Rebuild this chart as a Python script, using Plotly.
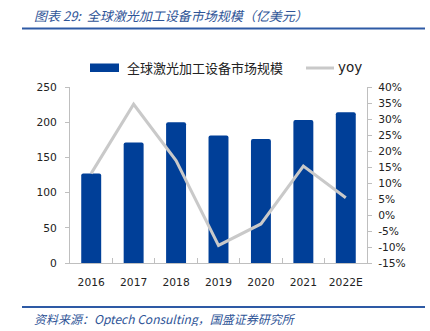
import plotly.graph_objects as go

# Global laser processing equipment market size (100M USD) and YoY growth
years = ["2016", "2017", "2018", "2019", "2020", "2021", "2022E"]
market_size = [127, 171, 200, 181, 176, 203, 214]
yoy = [13.0, 34.6, 17.0, -9.5, -2.8, 15.3, 5.4]

left_ticks = [0, 50, 100, 150, 200, 250]
right_ticks = [-15, -10, -5, 0, 5, 10, 15, 20, 25, 30, 35, 40]

BAR_BLUE = "#003f98"
LINE_GREY = "#c9c9c9"
HEAD_BLUE = "#2f5597"
RULE_BLUE = "rgb(46,90,165)"
AXIS_GREY = "#bfbfbf"
TEXT = "#222222"

W, H = 430, 331
L, R, T, B = 70, 63, 87, 68
PW, PH = W - L - R, H - T - B


def px_x(x):
    return (x - L) / PW


def px_y(y):
    return (H - B - y) / PH


fig = go.Figure()
fig.add_trace(go.Bar(
    x=years, y=market_size, name="全球激光加工设备市场规模",
    marker=dict(color=BAR_BLUE, line=dict(width=0)),
    yaxis="y", showlegend=False,
))
fig.add_trace(go.Scatter(
    x=years, y=yoy, name="yoy", mode="lines",
    line=dict(color=LINE_GREY, width=3),
    yaxis="y2", showlegend=False,
))

font_cjk = "Noto Sans CJK SC"
tick_font = dict(family="DejaVu Sans, Verdana", size=10.7, color=TEXT)
fig.update_layout(
    width=W, height=H,
    margin=dict(l=L, r=R, t=T, b=B),
    plot_bgcolor="white",
    bargap=0.53,
    barcornerradius=2,
    font=dict(family="DejaVu Sans, Verdana", size=11, color=TEXT),
    xaxis=dict(
        type="category", showline=True, linecolor=AXIS_GREY, linewidth=1,
        ticks="inside", tickson="boundaries", ticklen=5, tickcolor=AXIS_GREY,
        showgrid=False, tickfont=tick_font, tickangle=0, ticklabelstandoff=9,
    ),
    yaxis=dict(
        range=[0, 250], tickvals=left_ticks, showline=True, linecolor=AXIS_GREY,
        ticks="outside", ticklen=4, tickcolor=AXIS_GREY, showgrid=False,
        zeroline=False, tickfont=tick_font, ticklabelstandoff=6,
    ),
    yaxis2=dict(
        range=[-15, 40], tickvals=right_ticks,
        ticktext=[f"{v}%" for v in right_ticks],
        overlaying="y", side="right", showline=True, linecolor=AXIS_GREY,
        ticks="outside", ticklen=4, tickcolor=AXIS_GREY, showgrid=False,
        zeroline=False, tickfont=tick_font, ticklabelstandoff=4,
    ),
)

# Heading and source note
fig.add_annotation(
    text="<i>图表 29:  全球激光加工设备市场规模（亿美元）</i>",
    xref="paper", yref="paper", x=px_x(32), y=px_y(15),
    xanchor="left", yanchor="middle", showarrow=False, height=16,
    font=dict(family=font_cjk, size=13, color=HEAD_BLUE),
)
fig.add_annotation(
    text="<i>资料来源：Optech Consulting，国盛证券研究所</i>",
    xref="paper", yref="paper", x=px_x(32), y=px_y(318),
    xanchor="left", yanchor="middle", showarrow=False, height=15,
    font=dict(family=font_cjk, size=12, color=HEAD_BLUE),
)

# Legend row
fig.add_shape(
    type="rect", xref="paper", yref="paper",
    x0=px_x(90), x1=px_x(119), y0=px_y(72), y1=px_y(63.5),
    fillcolor=BAR_BLUE, line=dict(width=0),
)
fig.add_annotation(
    text=fig.data[0].name, xref="paper", yref="paper",
    x=px_x(125), y=px_y(67.5), xanchor="left", yanchor="middle", showarrow=False,
    font=dict(family=font_cjk, size=13, color=TEXT),
)
fig.add_shape(
    type="line", xref="paper", yref="paper",
    x0=px_x(306), x1=px_x(334), y0=px_y(68), y1=px_y(68),
    line=dict(color=LINE_GREY, width=3),
)
fig.add_annotation(
    text=fig.data[1].name, xref="paper", yref="paper",
    x=px_x(336), y=px_y(67), xanchor="left", yanchor="middle", showarrow=False,
    font=dict(family="DejaVu Sans, Verdana", size=13.5, color=TEXT),
)

# Blue rules under the heading and above the source note
for rule_y in (28.5, 307):
    fig.add_shape(
        type="line", xref="paper", yref="paper",
        x0=px_x(22), x1=px_x(425), y0=px_y(rule_y), y1=px_y(rule_y),
        line=dict(color=RULE_BLUE, width=2),
    )

fig.write_html("out.html")
